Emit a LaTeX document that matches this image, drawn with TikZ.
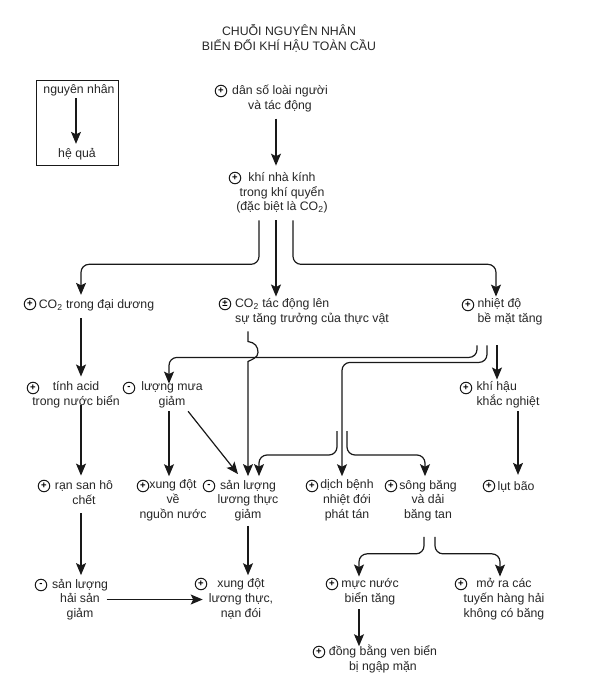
\documentclass[tikz,border=0pt]{standalone}
\usepackage{fontspec}
\usepackage{tikz}
\usetikzlibrary{arrows.meta}
\setmainfont{Liberation Sans}

\tikzset{
  label/.style={align=center,inner xsep=0pt,inner ysep=1.6pt,text=black!85,
    font=\fontsize{12.3}{14.7}\selectfont,
    execute at begin node={\rule{0pt}{12.1pt}},
    execute at end node={\rule[-2.6pt]{0pt}{2.6pt}}},
  sign/.style={circle,draw=black!90,line width=1pt,inner sep=0pt,minimum size=11.5pt,
    font=\fontsize{9.5}{9.5}\selectfont\bfseries},
  link/.style={draw=black!90,line width=1.2pt,rounded corners=8pt,shorten <=5pt,
    -{Stealth[length=12pt,width=10pt,inset=2.5pt]}}
}

\begin{document}
\begin{tikzpicture}[x=1pt,y=-1pt]
      \useasboundingbox (0,0) rectangle (600,686);
      % title and key
      \node[label] (title) at (289,38.5) {CHUỖI NGUYÊN NHÂN\\BIẾN ĐỔI KHÍ HẬU TOÀN CẦU};
      \node[draw=black!90,line width=1pt,minimum width=82pt,minimum height=85pt] (key) at (77,122.5) {};
      \node[label] (cause) at (79,89) {nguyên nhân};
      \node[label] (effect) at (77,153) {hệ quả};
      % causes
      \node[label] (people) at (280,98.5) {dân số loài người\\và tác động};
      \node[label] (ghg) at (282,193) {khí nhà kính\\trong khí quyển\\(đặc biệt là CO\textsubscript{2})};
      \node[label] (ocean) at (96.5,304) {CO\textsubscript{2} trong đại dương};
      \node[label,align=left] (plant) at (312,311.5) {CO\textsubscript{2} tác động lên\\sự tăng trưởng của thực vật};
      \node[label,align=left] (temp) at (510,311.5) {nhiệt độ\\bề mặt tăng};
      \node[label] (acid) at (76,394.5) {tính acid\\trong nước biển};
      \node[label] (rain) at (172,394.5) {lượng mưa\\giảm};
      \node[label,align=left] (climate) at (508,394.5) {khí hậu\\khắc nghiệt};
      \node[label] (reef) at (84,493.5) {rạn san hô\\chết};
      \node[label] (water) at (173,500.5) {xung đột\\về\\nguồn nước};
      \node[label] (food) at (248,500.5) {sản lượng\\lương thực\\giảm};
      \node[label] (disease) at (347,500.5) {dịch bệnh\\nhiệt đới\\phát tán};
      \node[label] (ice) at (428,500.5) {sông băng\\và dải\\băng tan};
      \node[label] (flood) at (516,486) {lụt bão};
      \node[label] (fish) at (80,599.5) {sản lượng\\hải sản\\giảm};
      \node[label] (war) at (241,599.5) {xung đột\\lương thực,\\nạn đói};
      \node[label] (sea) at (370,591.5) {mực nước\\biển tăng};
      \node[label] (ship) at (504,599) {mở ra các\\tuyến hàng hải\\không có băng};
      \node[label] (delta) at (383,659) {đồng bằng ven biển\\bị ngập mặn};
      % signs
      \node[sign] (people+) at (221,91) {+};
      \node[sign] (ghg+) at (235,178) {+};
      \node[sign] (ocean+) at (30,304) {+};
      \node[sign] (plant+) at (225,304) {±};
      \node[sign] (temp+) at (468,305) {+};
      \node[sign] (acid+) at (33,388) {+};
      \node[sign] (rain-) at (129,388) {-};
      \node[sign] (climate+) at (466,388) {+};
      \node[sign] (reef+) at (44,486) {+};
      \node[sign] (water+) at (143,486) {+};
      \node[sign] (food-) at (209,486) {-};
      \node[sign] (disease+) at (312,486) {+};
      \node[sign] (ice+) at (391,486) {+};
      \node[sign] (flood+) at (489,486) {+};
      \node[sign] (fish-) at (41,585) {-};
      \node[sign] (war+) at (201,584) {+};
      \node[sign] (sea+) at (332,584) {+};
      \node[sign] (ship+) at (461,584) {+};
      \node[sign] (delta+) at (319,652) {+};
      % free ends of the two branches
      \coordinate (splitL) at (337,426);
      \coordinate (splitR) at (347,426);
      % connectors
      \path[link] ([shift={(-3,-5)}]cause.south) -- ([xshift=-1pt]effect.north);
      \path[link] ([xshift=-4pt]people.south) -- ([shift={(-6,-5)}]ghg.north);
      \path[link] ([xshift=-23pt]ghg.south) -- ++(0,49) -| ([xshift=-15.5pt]ocean.north);
      \path[link] ([xshift=-6pt]ghg.south) -- ([xshift=-36pt]plant.north);
      \path[link] ([xshift=11pt]ghg.south) -- ++(0,49) -| ([xshift=-14pt]temp.north);
      \path[link] ([xshift=-15.5pt]ocean.south) -- ([shift={(5,-3)}]acid.north);
      \path[link] ([shift={(5,-9)}]acid.south) -- ([shift={(-3,-3)}]reef.north);
      \path[link] ([xshift=-3pt]reef.south) -- ([shift={(1,-2)}]fish.north);
      \path[link] ([xshift=-6.5pt]fish.east) -- ([xshift=-6pt]war.west);
      \path[link] ([shift={(0,-2)}]food.south) -- ([shift={(7,-2)}]war.north);
      \path[link] ([shift={(-3,-3)}]rain.south) -- ([shift={(-4,-2)}]water.north);
      \path[link] ([shift={(13,-2)}]rain.south) -- ([shift={(-10,-4)}]food.north);
      \path[link,sharp corners] ([xshift=-64pt]plant.south) -- ++(0,15)
        .. controls +(7,1) and +(0,-6) .. ++(10,11)
        .. controls +(0,5) and +(4,-2) .. ++(-10,9)
        -- ([shift={(0,-2)}]food.north);
      \path[link] ([shift={(-33,14)}]temp.south) -- ++(0,17) -| ([shift={(-3,4)}]rain.north);
      \path[link] ([shift={(-23,14)}]temp.south) -- ++(0,22) -| ([shift={(-5,-2)}]disease.north);
      \path[link] ([shift={(-13,14)}]temp.south) -- ([xshift=-11pt]climate.north);
      \path[link] ([shift={(10,-3)}]climate.south) -- ([shift={(2,-2)}]flood.north);
      \path[link] (splitL) -- ++(0,29) -| ([shift={(11,-2)}]food.north);
      \path[link] (splitR) -- ++(0,29) -| ([shift={(-3,-2)}]ice.north);
      \path[link] ([shift={(-4,9)}]ice.south) -- ++(0,22) -| ([xshift=-11pt]sea.north);
      \path[link] ([shift={(7,9)}]ice.south) -- ++(0,22) -| ([xshift=-4pt]ship.north);
      \path[link] ([shift={(-11,-2)}]sea.south) -- ([shift={(-24,3)}]delta.north);
    \end{tikzpicture}
\end{document}
